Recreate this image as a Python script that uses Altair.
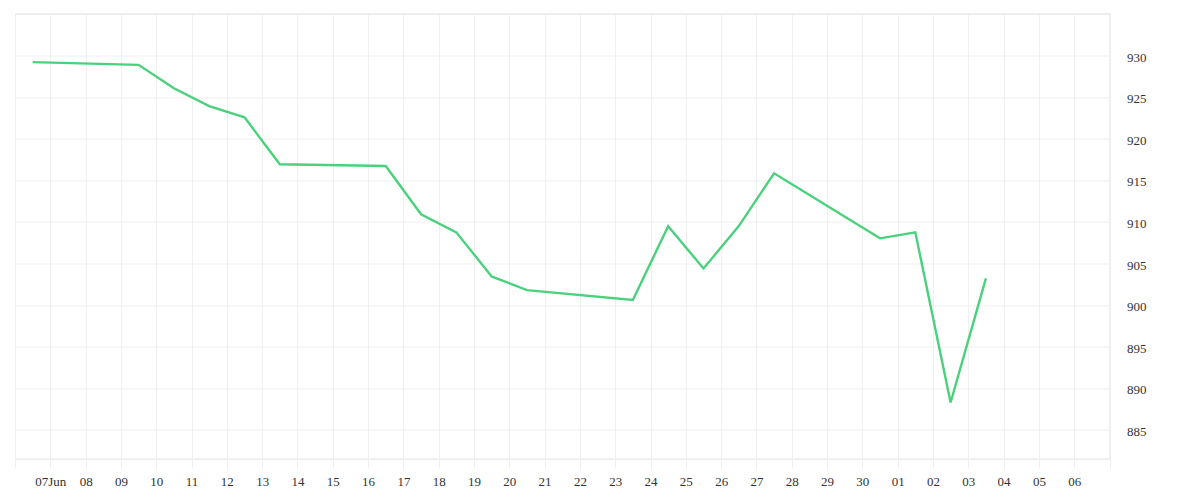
import altair as alt
import pandas as pd
from datetime import datetime, timezone

# ---- data ----
dates = [
    "2025-06-06", "2025-06-09", "2025-06-10", "2025-06-11", "2025-06-12",
    "2025-06-13", "2025-06-16", "2025-06-17", "2025-06-18", "2025-06-19",
    "2025-06-20", "2025-06-23", "2025-06-24", "2025-06-25", "2025-06-26",
    "2025-06-27", "2025-06-30", "2025-07-01", "2025-07-02", "2025-07-03",
]
values = [
    929.24, 928.92, 926.1, 923.94, 922.6,
    916.95, 916.74, 910.92, 908.75, 903.44,
    901.79, 900.6, 909.5, 904.4, 909.5,
    915.86, 908.03, 908.75, 888.26, 903.2,
]
tick_days = pd.date_range("2025-06-06", "2025-07-07", freq="D")
tick_labels = ["", "07Jun"] + [d.strftime("%d") for d in tick_days[2:-1]] + [""]
y_ticks = [885, 890, 895, 900, 905, 910, 915, 920, 925, 930]
y_domain = [881.5, 935.1]

df = pd.DataFrame({
    "t": [d + "T12:00:00Z" for d in dates],
    "v": values,
})

tick_ms = [int(datetime(d.year, d.month, d.day, tzinfo=timezone.utc).timestamp() * 1000) for d in tick_days]
label_expr = "[" + ",".join("'%s'" % s for s in tick_labels) + "][indexof([" + ",".join(str(m) for m in tick_ms) + "], datum.value)]"

grid_color = "#efefef"
font = "Liberation Serif"

x_values = [alt.DateTime(year=d.year, month=d.month, date=d.day, utc=True) for d in tick_days]

chart = alt.Chart(df).mark_line(color="#4bd17d", strokeWidth=2.4).encode(
    x=alt.X(
        "t:T",
        scale=alt.Scale(type="utc", domain=[x_values[0], x_values[-1]]),
        axis=alt.Axis(
            values=x_values,
            labelExpr=label_expr,
            title=None,
            grid=True,
            gridColor=grid_color,
            domainColor=grid_color,
            tickColor=grid_color,
            tickSize=9.5,
            labelPadding=7,
            labelFont=font,
            labelFontSize=13,
            labelColor="#333333",
            labelAngle=0,
            labelFlush=False,
            labelOverlap=False,
        ),
    ),
    y=alt.Y(
        "v:Q",
        scale=alt.Scale(domain=y_domain, nice=False, zero=False),
        axis=alt.Axis(
            orient="right",
            values=y_ticks,
            title=None,
            grid=True,
            gridColor=grid_color,
            domain=False,
            ticks=False,
            tickSize=0,
            labelPadding=17,
            labelFont=font,
            labelFontSize=13,
            labelColor="#333333",
            labelOffset=1.5,
        ),
    ),
).properties(
    width=1094.5,
    height=445.2,
    autosize=alt.AutoSizeParams(type="none"),
    padding={"left": 7, "top": 5.5, "right": 70, "bottom": 30},
).configure_view(stroke=grid_color, strokeWidth=1).configure(background="white")

chart.save("out.html", embed_options={"renderer": "svg", "actions": False})
